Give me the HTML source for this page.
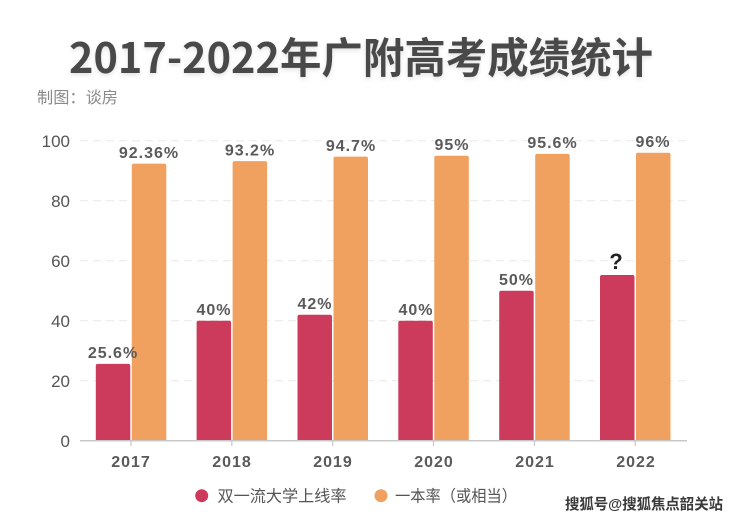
<!DOCTYPE html>
<html>
<head>
<meta charset="utf-8">
<style>
  html,body{margin:0;padding:0;background:#fff;}
  svg{display:block;}
</style>
</head>
<body>
<svg width="740" height="519" viewBox="0 0 740 519" xmlns="http://www.w3.org/2000/svg">
  <defs>
    <filter id="sh" x="-5%" y="-20%" width="110%" height="150%">
      <feGaussianBlur in="SourceAlpha" stdDeviation="2.5"/>
      <feOffset dx="0" dy="2" result="b"/>
      <feComponentTransfer><feFuncA type="linear" slope="0.12"/></feComponentTransfer>
      <feMerge><feMergeNode/><feMergeNode in="SourceGraphic"/></feMerge>
    </filter>
  </defs>
  <rect width="740" height="519" fill="#ffffff"/>

  <!-- Title -->
  <text x="69" y="73" font-family="Noto Sans CJK SC, Liberation Sans, sans-serif" font-size="42" font-weight="bold" fill="#4a4a4a" textLength="584" lengthAdjust="spacingAndGlyphs" filter="url(#sh)">2017-2022年广附高考成绩统计</text>
  <text x="37" y="103" font-family="Liberation Sans, Noto Sans CJK SC, sans-serif" font-size="16" fill="#8a8a8a" textLength="81" lengthAdjust="spacingAndGlyphs">制图：谈房</text>

  <!-- Gridlines -->
  <g stroke="#e8e8e8" stroke-width="1" stroke-dasharray="8,5">
    <line x1="80" y1="140.7" x2="687" y2="140.7"/>
    <line x1="80" y1="200.7" x2="687" y2="200.7"/>
    <line x1="80" y1="260.7" x2="687" y2="260.7"/>
    <line x1="80" y1="320.7" x2="687" y2="320.7"/>
    <line x1="80" y1="380.7" x2="687" y2="380.7"/>
  </g>

  <!-- Y axis labels -->
  <g font-family="Liberation Sans, sans-serif" font-size="17" fill="#555" text-anchor="end">
    <text x="70" y="147">100</text>
    <text x="70" y="207">80</text>
    <text x="70" y="267">60</text>
    <text x="70" y="327">40</text>
    <text x="70" y="387">20</text>
    <text x="70" y="447">0</text>
  </g>

  <!-- Bars -->
  <g>
    <path d="M95.8,440.7 V365.9 Q95.8,363.9 97.8,363.9 H128.3 Q130.3,363.9 130.3,365.9 V440.7 Z" fill="#cc3a5c"/>
    <path d="M131.8,440.7 V165.6 Q131.8,163.6 133.8,163.6 H164.3 Q166.3,163.6 166.3,165.6 V440.7 Z" fill="#f0a05f"/>
    <path d="M196.6,440.7 V322.7 Q196.6,320.7 198.6,320.7 H229.1 Q231.1,320.7 231.1,322.7 V440.7 Z" fill="#cc3a5c"/>
    <path d="M232.6,440.7 V163.1 Q232.6,161.1 234.6,161.1 H265.1 Q267.1,161.1 267.1,163.1 V440.7 Z" fill="#f0a05f"/>
    <path d="M297.5,440.7 V316.7 Q297.5,314.7 299.5,314.7 H330 Q332,314.7 332,316.7 V440.7 Z" fill="#cc3a5c"/>
    <path d="M333.5,440.7 V158.6 Q333.5,156.6 335.5,156.6 H366 Q368,156.6 368,158.6 V440.7 Z" fill="#f0a05f"/>
    <path d="M398.3,440.7 V322.7 Q398.3,320.7 400.3,320.7 H430.8 Q432.8,320.7 432.8,322.7 V440.7 Z" fill="#cc3a5c"/>
    <path d="M434.3,440.7 V157.7 Q434.3,155.7 436.3,155.7 H466.8 Q468.8,155.7 468.8,157.7 V440.7 Z" fill="#f0a05f"/>
    <path d="M499.2,440.7 V292.7 Q499.2,290.7 501.2,290.7 H531.7 Q533.7,290.7 533.7,292.7 V440.7 Z" fill="#cc3a5c"/>
    <path d="M535.2,440.7 V155.9 Q535.2,153.9 537.2,153.9 H567.7 Q569.7,153.9 569.7,155.9 V440.7 Z" fill="#f0a05f"/>
    <path d="M600,440.7 V277 Q600,275 602,275 H632.5 Q634.5,275 634.5,277 V440.7 Z" fill="#cc3a5c"/>
    <path d="M636,440.7 V154.7 Q636,152.7 638,152.7 H668.5 Q670.5,152.7 670.5,154.7 V440.7 Z" fill="#f0a05f"/>
  </g>

  <!-- Axis -->
  <line x1="80" y1="440.7" x2="687" y2="440.7" stroke="#c8c8c8" stroke-width="1.5"/>
  <g stroke="#c8c8c8" stroke-width="1.2">
    <line x1="131" y1="440.7" x2="131" y2="446"/>
    <line x1="231.8" y1="440.7" x2="231.8" y2="446"/>
    <line x1="332.7" y1="440.7" x2="332.7" y2="446"/>
    <line x1="433.5" y1="440.7" x2="433.5" y2="446"/>
    <line x1="534.4" y1="440.7" x2="534.4" y2="446"/>
    <line x1="635.2" y1="440.7" x2="635.2" y2="446"/>
  </g>

  <!-- Value labels -->
  <g font-family="Liberation Sans, sans-serif" font-size="16" font-weight="bold" fill="#5a5a5a" text-anchor="middle" letter-spacing="1">
    <text x="113" y="358">25.6%</text>
    <text x="149" y="158">92.36%</text>
    <text x="214" y="315">40%</text>
    <text x="250" y="155.5">93.2%</text>
    <text x="315" y="309">42%</text>
    <text x="351" y="151">94.7%</text>
    <text x="416" y="315">40%</text>
    <text x="452" y="150">95%</text>
    <text x="516.5" y="285">50%</text>
    <text x="552.5" y="148">95.6%</text>
    <text x="653" y="147">96%</text>
  </g>
  <text x="616" y="269" font-family="Liberation Sans, sans-serif" font-size="22" font-weight="bold" fill="#222" text-anchor="middle">?</text>

  <!-- X labels -->
  <g font-family="Liberation Sans, sans-serif" font-size="16" font-weight="bold" fill="#5a5a5a" text-anchor="middle" letter-spacing="1">
    <text x="131" y="467">2017</text>
    <text x="232" y="467">2018</text>
    <text x="333" y="467">2019</text>
    <text x="434" y="467">2020</text>
    <text x="535" y="467">2021</text>
    <text x="636" y="467">2022</text>
  </g>

  <!-- Legend -->
  <circle cx="201.7" cy="495.7" r="6.5" fill="#cc3a5c"/>
  <text x="217.5" y="501.5" font-family="Liberation Sans, Noto Sans CJK SC, sans-serif" font-size="16" fill="#555" textLength="129" lengthAdjust="spacingAndGlyphs">双一流大学上线率</text>
  <circle cx="381" cy="495.7" r="6.5" fill="#f0a05f"/>
  <text x="395" y="501.5" font-family="Liberation Sans, Noto Sans CJK SC, sans-serif" font-size="16" fill="#555" textLength="122" lengthAdjust="spacingAndGlyphs">一本率（或相当）</text>

  <!-- Watermark -->
  <text x="565" y="509" font-family="Liberation Sans, Noto Sans CJK SC, sans-serif" font-size="15" font-weight="bold" fill="#3a3a3a" stroke="#ffffff" stroke-width="2.5" paint-order="stroke" textLength="158" lengthAdjust="spacingAndGlyphs">搜狐号@搜狐焦点韶关站</text>
</svg>
</body>
</html>
